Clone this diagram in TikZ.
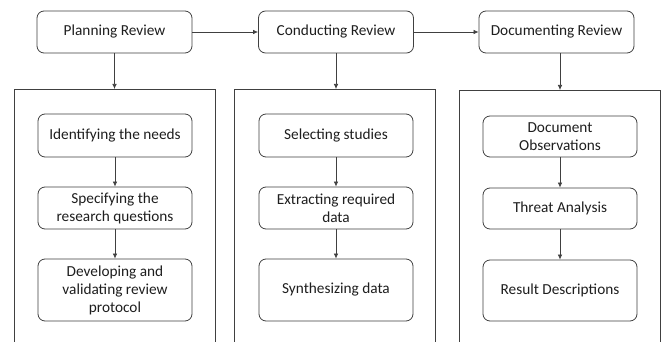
\documentclass[tikz,border=0pt]{standalone}
\usepackage{fontspec}
\setmainfont{Carlito}
\usetikzlibrary{arrows.meta}
\definecolor{edge}{HTML}{404040}
\definecolor{ink}{HTML}{1E1E1E}
\begin{document}
\begin{tikzpicture}[x=1pt,y=-1pt,
  every node/.style={font=\fontsize{15.3}{18}\selectfont, text=ink},
  phase/.style={draw=edge, line width=0.8pt, rounded corners=7pt, align=center,
    minimum width=155pt, minimum height=42pt, inner sep=2pt},
  task/.style={draw=edge, line width=0.8pt, rounded corners=7pt, align=center,
    minimum width=154pt, inner sep=2pt},
  panel/.style={draw=edge, line width=0.8pt, minimum width=201pt, minimum height=280pt,
    anchor=north, inner sep=0pt},
  flow/.style={draw=edge, line width=0.7pt, -{Latex[length=5pt,width=4.5pt]}}]
\useasboundingbox (0,0) rectangle (665,342);
\clip (0,0) rectangle (665,342);
\fill[white] (0,0) rectangle (665,342);

% top-level phases
\node[phase] (plan) at (114.5,32) {Planning Review};
\node[phase] (cond) at (336,32) {Conducting Review};
\node[phase] (docu) at (556.5,32) {Documenting Review};

% panels holding the steps of each phase (open towards the bottom)
\node[panel] (pplan) at (114.5,89) {};
\node[panel] (pcond) at (335,89) {};
\node[panel] (pdocu) at (560,90) {};

% planning steps
\node[task, minimum height=43pt] (p1) at (115,135.5) {Identifying the needs};
\node[task, minimum height=42pt] (p2) at (115,208) {Specifying the\\research questions};
\node[task, minimum height=62pt] (p3) at (115,290) {Developing and\\validating review\\protocol};

% conducting steps
\node[task, minimum height=43pt] (c1) at (336,135.5) {Selecting studies};
\node[task, minimum height=42pt] (c2) at (336,208) {Extracting required\\data};
\node[task, minimum height=62pt] (c3) at (336,290) {Synthesizing data};

% documenting steps
\node[task, minimum height=41pt] (d1) at (560,136.5) {Document\\Observations};
\node[task, minimum height=41pt] (d2) at (560,208.5) {Threat Analysis};
\node[task, minimum height=61pt] (d3) at (560,290.5) {Result Descriptions};

% connectors
\draw[flow] (plan.east) -- (cond.west);
\draw[flow] (cond.east) -- (docu.west);
\draw[flow] (plan.south) -- (plan.south |- pplan.north);
\draw[flow] (cond.south) -- (cond.south |- pcond.north);
\draw[flow] (docu.south -| pdocu.north) -- (pdocu.north);
\draw[flow] (p1) -- (p2);
\draw[flow] (p2) -- (p3);
\draw[flow] (c1) -- (c2);
\draw[flow] (c2) -- (c3);
\draw[flow] (d1) -- (d2);
\draw[flow] (d2) -- (d3);
\end{tikzpicture}
\end{document}
